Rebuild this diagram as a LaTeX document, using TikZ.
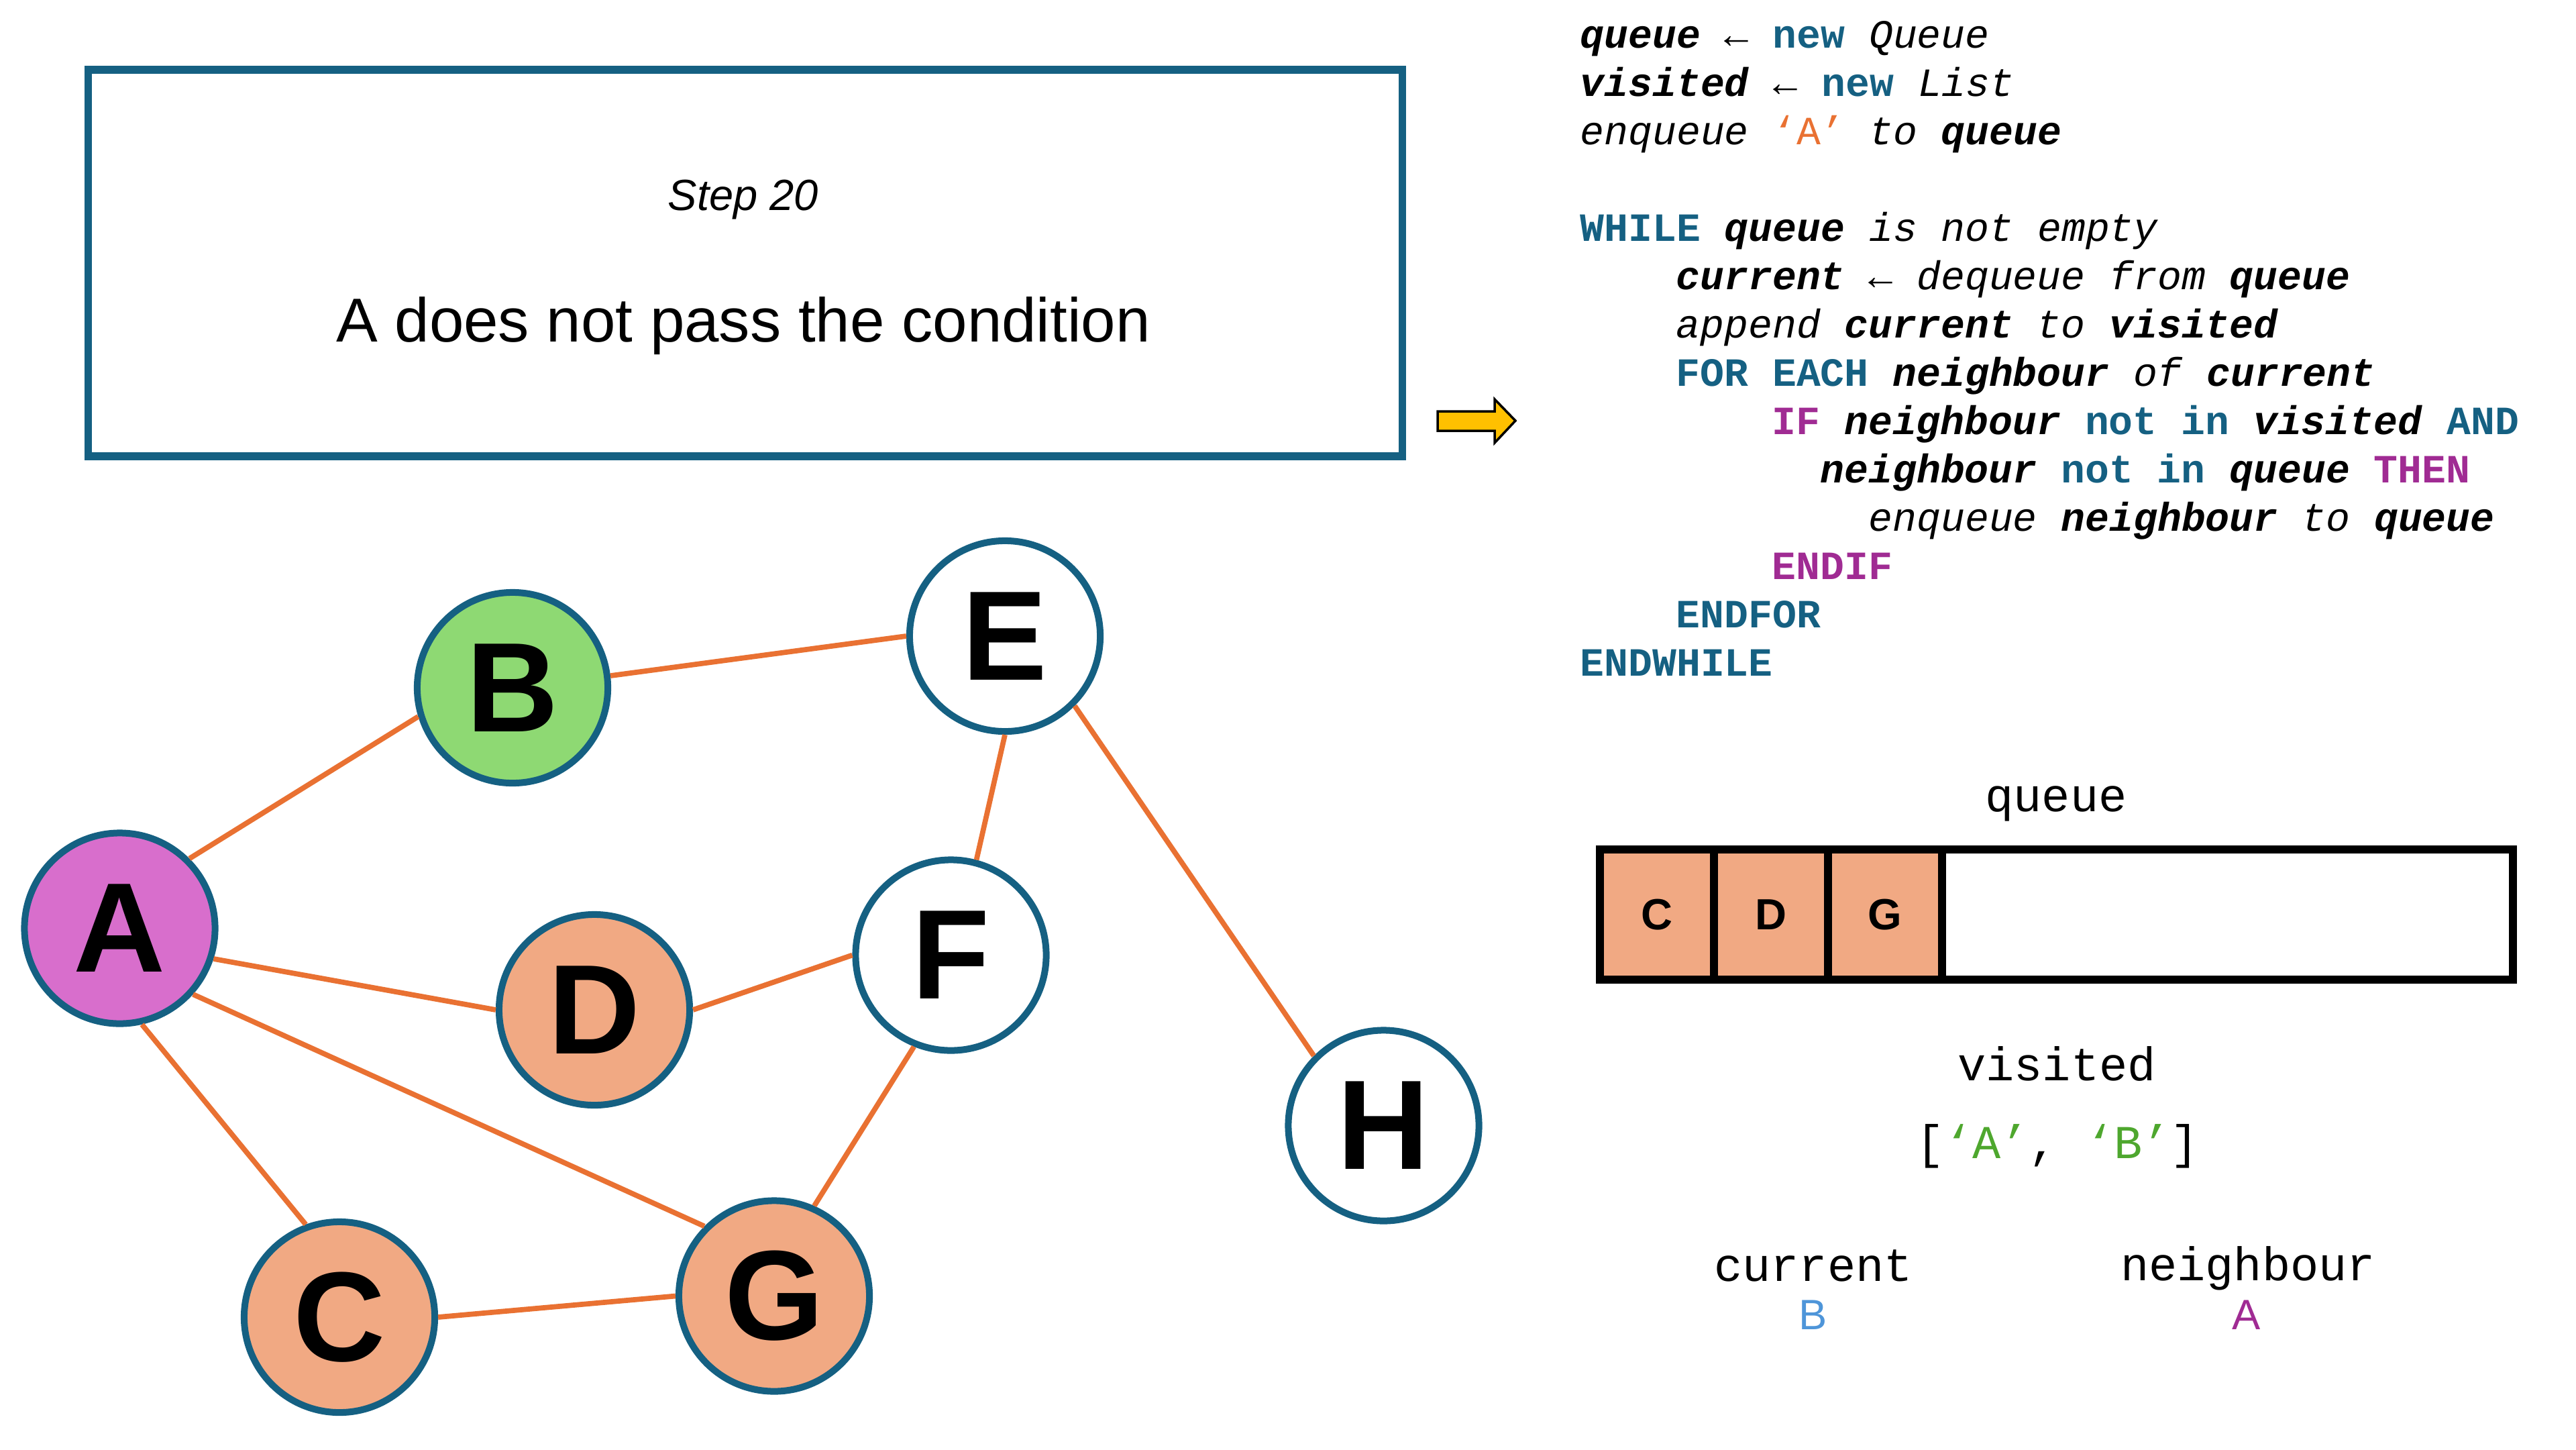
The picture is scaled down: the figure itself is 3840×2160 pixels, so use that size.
\documentclass[tikz,border=0pt]{standalone}
\usepackage{fontspec}
\setmainfont{Liberation Sans}
\setmonofont{Liberation Mono}
\usepackage{xcolor}
\usetikzlibrary{positioning}

\definecolor{nodeedge}{HTML}{156082}
\definecolor{edgeorange}{HTML}{E97132}
\definecolor{visitpink}{HTML}{D86ECC}
\definecolor{donegreen}{HTML}{8ED973}
\definecolor{queuepeach}{HTML}{F1A983}
\definecolor{kwteal}{HTML}{156082}
\definecolor{ctlpurple}{HTML}{A02B93}
\definecolor{listgreen}{HTML}{4EA72E}
\definecolor{curblue}{HTML}{4E95D9}
\definecolor{arrowgold}{HTML}{FFC000}

\newcommand{\codevar}[1]{\textbf{\textit{#1}}}
\newcommand{\codekw}[1]{\textcolor{kwteal}{\textbf{#1}}}
\newcommand{\codectl}[1]{\textcolor{ctlpurple}{\textbf{#1}}}
\newcommand{\codeit}[1]{\textit{#1}}

\tikzset{
  vertex/.style={circle, draw=nodeedge, line width=0.1cm, minimum size=2.84cm, inner sep=0pt,
    font=\fontsize{54}{54}\selectfont\bfseries},
  link/.style={draw=edgeorange, line width=2.2pt},
  codeline/.style={anchor=base west, inner sep=0pt, font=\fontsize{17}{17}\selectfont\ttfamily},
  cell/.style={rectangle, draw=black, line width=0.12cm, fill=queuepeach, minimum width=1.7cm,
    minimum height=1.94cm, inner sep=0pt, font=\fontsize{18.5}{18.5}\selectfont\bfseries},
  varlabel/.style={anchor=base, inner sep=0pt, font=\fontsize{20}{20}\selectfont\ttfamily},
  varvalue/.style={anchor=base, inner sep=0pt, font=\fontsize{18}{18}\selectfont},
}

\begin{document}
\begin{tikzpicture}[x=0.01cm, y=-0.01cm]
      \useasboundingbox (0,0) rectangle (3840,2160);

      % Step box
      \node (stepbox) [draw=nodeedge, line width=0.115cm, minimum width=19.58cm, minimum height=5.76cm] at (1111,392) {};
      \node (steptitle) [anchor=base, font=\fontsize{18.5}{18.5}\selectfont\itshape] at (1108,313) {Step 20};
      \node (stepmsg) [anchor=base, font=\fontsize{26.3}{26.3}\selectfont] at (1108,509) {A does not pass the condition};

      % Nodes
      \node (A) [vertex, fill=visitpink] at (178.5,1383.5) {A};
      \node (B) [vertex, fill=donegreen] at (764,1025) {B};
      \node (C) [vertex, fill=queuepeach] at (506,1963) {C};
      \node (D) [vertex, fill=queuepeach] at (886,1505) {D};
      \node (E) [vertex, fill=white] at (1498,948) {E};
      \node (F) [vertex, fill=white] at (1417.5,1423.5) {F};
      \node (G) [vertex, fill=queuepeach] at (1154,1931.5) {G};
      \node (H) [vertex, fill=white] at (2062.5,1677.5) {H};

      % Edges
      \draw[link] (A.45) -- (B.197);
      \draw[link] (B.7) -- (E.180);
      \draw[link] (A.-18) -- (D.180);
      \draw[link] (D.0) -- (F.180);
      \draw[link] (E.270) -- (F.75);
      \draw[link] (E.-45) -- (H.135);
      \draw[link] (A.-42) -- (G.135);
      \draw[link] (A.-77) -- (C.110);
      \draw[link] (C.0) -- (G.180);
      \draw[link] (F.248) -- (G.66);

      % Pointer
      \draw[draw=black, fill=arrowgold, line width=1pt] (2143,613) -- (2228,613) -- (2228,595) -- (2259,627)
        -- (2228,660) -- (2228,642) -- (2143,642) -- cycle;

      % Pseudocode
      \node (l1) [codeline] at (2355,71) {\codevar{queue} ← \codekw{new} \codeit{Queue}};
      \node (l2) [codeline] at (2355,143) {\codevar{visited} ← \codekw{new} \codeit{List}};
      \node (l3) [codeline] at (2355,215) {\codeit{enqueue} \textcolor{edgeorange}{‘A’} \codeit{to} \codevar{queue}};
      \node (l4) [codeline] at (2355,359) {\codekw{WHILE} \codevar{queue} \codeit{is not empty}};
      \node (l5) [codeline] at (2498,431) {\codevar{current} ← \codeit{dequeue from} \codevar{queue}};
      \node (l6) [codeline] at (2498,503) {\codeit{append} \codevar{current} \codeit{to} \codevar{visited}};
      \node (l7) [codeline] at (2498,575) {\codekw{FOR EACH} \codevar{neighbour} \codeit{of} \codevar{current}};
      \node (l8) [codeline] at (2641,647) {\codectl{IF} \codevar{neighbour} \codekw{not in} \codevar{visited} \codekw{AND}};
      \node (l9) [codeline] at (2713,719) {\codevar{neighbour} \codekw{not in} \codevar{queue} \codectl{THEN}};
      \node (l10) [codeline] at (2785,791) {\codeit{enqueue} \codevar{neighbour} \codeit{to} \codevar{queue}};
      \node (l11) [codeline] at (2641,863) {\codectl{ENDIF}};
      \node (l12) [codeline] at (2498,935) {\codekw{ENDFOR}};
      \node (l13) [codeline] at (2355,1007) {\codekw{ENDWHILE}};

      % Queue
      \node (queuelabel) [varlabel] at (3065,1209) {queue};
      \node (q1) [cell] at (2470,1363) {C};
      \node (q2) [cell] at (2640,1363) {D};
      \node (q3) [cell] at (2810,1363) {G};
      \node (qbox) [draw=black, line width=0.12cm, minimum width=13.61cm, minimum height=1.94cm, inner sep=0pt] at (3065.5,1363) {};

      % Visited
      \node (visitedlabel) [varlabel] at (3066,1610) {visited};
      \node (visitedlist) [varlabel] at (3067,1726) {[\textcolor{listgreen}{‘A’}, \textcolor{listgreen}{‘B’}]};

      % Current and neighbour
      \node (curlabel) [varlabel] at (2703,1909) {current};
      \node (curval) [varvalue, text=curblue] at (2703,1981) {B};
      \node (nblabel) [varlabel] at (3351,1908) {neighbour};
      \node (nbval) [varvalue, text=ctlpurple] at (3349,1981) {A};
  \end{tikzpicture}
\end{document}
